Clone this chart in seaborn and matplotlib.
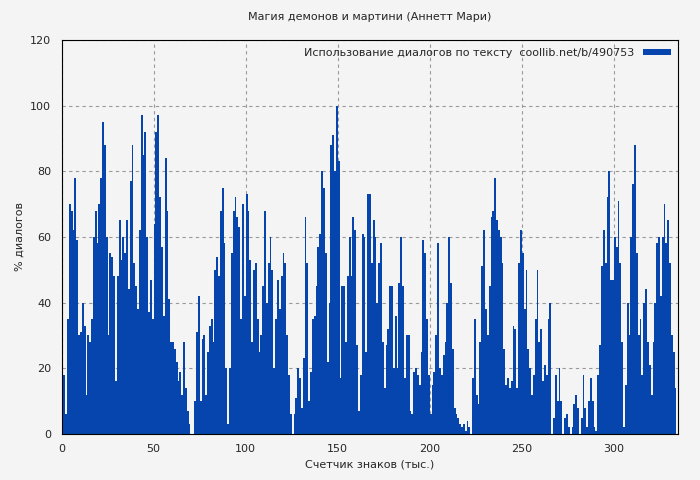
import numpy as np
import matplotlib
matplotlib.use("Agg")
import matplotlib.pyplot as plt
import seaborn as sns

# Доля диалогов (%) на каждую тысячу знаков, оценка по картинке
dialog_pct = [
    37, 18, 6, 35, 70, 68, 62, 78, 59, 30,
    31, 40, 33, 12, 30, 28, 35, 60, 68, 58,
    70, 78, 95, 88, 60, 30, 55, 54, 48, 16,
    48, 65, 53, 60, 55, 65, 44, 77, 88, 52,
    45, 38, 62, 97, 85, 92, 60, 37, 47, 35,
    64, 92, 97, 72, 57, 36, 84, 68, 41, 28,
    28, 26, 22, 16, 19, 12, 28, 14, 7, 3,
    0, 0, 10, 31, 42, 10, 29, 30, 12, 25,
    33, 35, 28, 50, 54, 48, 68, 75, 58, 20,
    3, 20, 55, 68, 72, 66, 63, 35, 70, 42,
    73, 68, 53, 28, 50, 52, 35, 25, 30, 45,
    68, 40, 52, 60, 50, 20, 35, 47, 38, 48,
    55, 52, 30, 18, 6, 0, 6, 11, 20, 17,
    8, 23, 66, 52, 10, 19, 35, 36, 45, 57,
    61, 80, 75, 55, 22, 40, 88, 91, 80, 100,
    83, 17, 45, 45, 28, 48, 60, 48, 66, 62,
    27, 7, 18, 61, 60, 25, 73, 73, 52, 65,
    60, 40, 52, 58, 28, 14, 27, 32, 45, 45,
    20, 36, 20, 46, 60, 45, 17, 30, 30, 7,
    6, 19, 20, 18, 15, 25, 59, 55, 35, 18,
    6, 15, 19, 30, 58, 20, 18, 24, 28, 40,
    60, 46, 26, 8, 6, 5, 3, 2, 3, 1,
    4, 2, 0, 17, 35, 12, 9, 28, 51, 62,
    38, 30, 45, 66, 68, 78, 65, 62, 60, 52,
    26, 15, 17, 14, 16, 33, 32, 14, 52, 62,
    55, 38, 50, 26, 20, 12, 18, 35, 50, 28,
    32, 16, 21, 18, 35, 40, 0, 5, 18, 10,
    20, 10, 0, 5, 6, 2, 0, 2, 9, 12,
    8, 0, 5, 18, 8, 2, 10, 17, 10, 2,
    1, 18, 27, 51, 62, 52, 72, 80, 47, 47,
    60, 57, 71, 52, 28, 2, 15, 40, 30, 60,
    76, 88, 55, 30, 35, 18, 40, 44, 28, 21,
    12, 28, 40, 58, 60, 42, 60, 70, 58, 65,
    52, 30, 25, 14,
]
chars_k = np.arange(len(dialog_pct))

sns.set_style("white")
plt.rcParams['font.family'] = ['DejaVu Sans']

fig, ax = plt.subplots(figsize=(7, 4.8), dpi=100)
fig.patch.set_facecolor("#f4f4f4")
ax.set_facecolor("#f4f4f4")
fig.subplots_adjust(left=0.088, right=0.969, top=0.917, bottom=0.096)

ax.bar(chars_k + 0.5, dialog_pct, width=1.0, color="#0645ad", linewidth=0,
       label="Использование диалогов по тексту  coollib.net/b/490753")

ax.set_xlim(0, 335)
ax.set_ylim(0, 120)
ax.set_xticks(range(0, 301, 50))
ax.set_yticks(range(0, 121, 20))
ax.grid(True, color="#999999", linestyle=(0, (3, 3)), linewidth=0.8)
ax.set_axisbelow(True)
for s in ax.spines.values():
    s.set_color("black")
ax.tick_params(labelsize=8, length=4, direction="out")
ax.set_title("Магия демонов и мартини (Аннетт Мари)", fontsize=8, pad=14)
ax.set_xlabel("Счетчик знаков (тыс.)", fontsize=8)
ax.set_ylabel("% диалогов", fontsize=8)
leg = ax.legend(loc="upper right", fontsize=8, frameon=False, markerfirst=False,
                handlelength=2.5, handleheight=0.5, borderaxespad=0.3)

fig.savefig("out.png", dpi=100, facecolor=fig.get_facecolor())
